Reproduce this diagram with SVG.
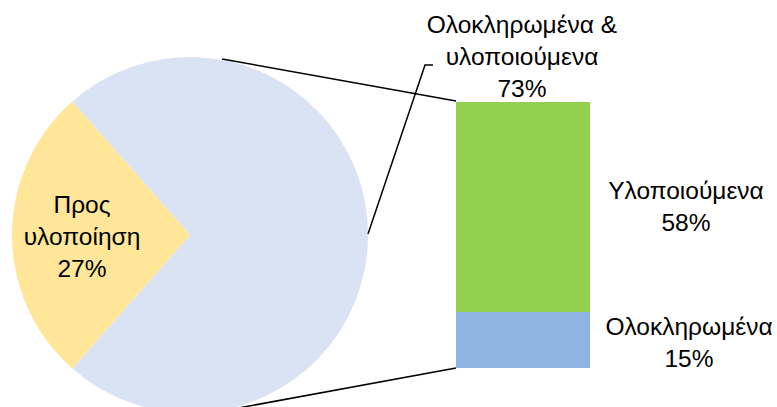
<svg xmlns="http://www.w3.org/2000/svg" width="777" height="407" viewBox="0 0 777 407">
<style>
.lbl{font-family:"Liberation Sans","Open Sans",sans-serif;font-size:24.5px;fill:#000;text-anchor:middle}
.ln{stroke:#000;stroke-width:1.5;fill:none}
</style>
<rect width="777" height="407" fill="#fff"/>
<g id="pie">
<g id="slice-done">
<path d="M190,235 L72.3,101.5 A178,178 0 1 1 72.3,368.5 Z" fill="#DAE3F3"/>
</g>
<g id="slice-todo">
<path d="M190,235 L72.3,101.5 A178,178 0 0 0 72.3,368.5 Z" fill="#FFE699"/>
<text class="lbl" x="82" y="213">Προς</text>
<text class="lbl" x="82" y="245">υλοποίηση</text>
<text class="lbl" x="82" y="277">27%</text>
</g>
</g>
<g id="bar">
<g id="bar-implementing">
<rect x="456" y="102" width="134" height="210" fill="#92D050"/>
<text class="lbl" x="686" y="199">Υλοποιούμενα</text>
<text class="lbl" x="686" y="231">58%</text>
</g>
<g id="bar-completed">
<rect x="456" y="312" width="134" height="56" fill="#8EB4E3"/>
<text class="lbl" x="689" y="335">Ολοκληρωμένα</text>
<text class="lbl" x="689" y="367">15%</text>
</g>
</g>
<g id="label-top">
<text class="lbl" x="522" y="33">Ολοκληρωμένα &amp;</text>
<text class="lbl" x="522" y="65">υλοποιούμενα</text>
<text class="lbl" x="522" y="97">73%</text>
</g>
<g id="connectors">
<line class="ln" x1="222" y1="59" x2="456" y2="101"/>
<line class="ln" x1="222" y1="411" x2="456" y2="368"/>
<polyline class="ln" points="368,234 425,65 433,65"/>
</g>
</svg>
